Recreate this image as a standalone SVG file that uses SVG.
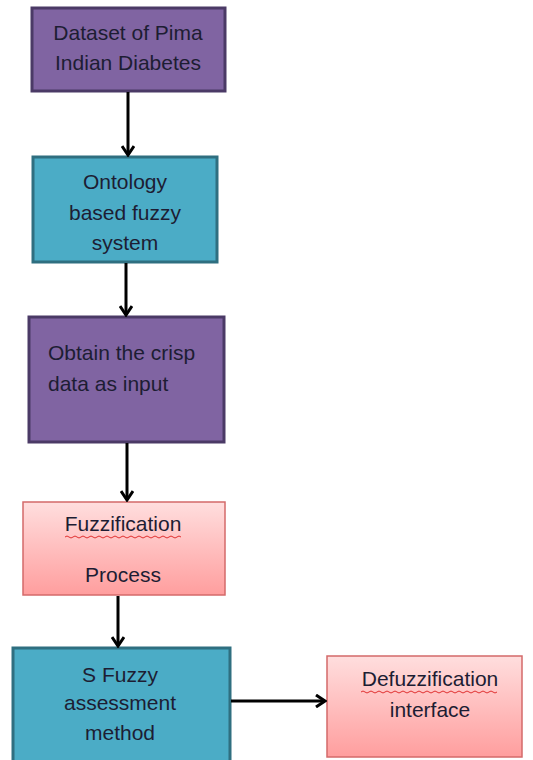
<svg xmlns="http://www.w3.org/2000/svg" width="533" height="760" viewBox="0 0 533 760">
<defs>
<linearGradient id="pink" x1="0" y1="0" x2="0" y2="1">
<stop offset="0" stop-color="#ffdede"/>
<stop offset="1" stop-color="#ff9e9e"/>
</linearGradient>
<marker id="arr" markerWidth="12" markerHeight="14" refX="10" refY="7" orient="auto" markerUnits="userSpaceOnUse">
<path d="M1,1 L10,7 L1,13" fill="none" stroke="#000" stroke-width="3"/>
</marker>
</defs>
<style>
.purple{fill:#8064a2;stroke:#4b3a66;stroke-width:3}
.teal{fill:#4bacc6;stroke:#2f6f80;stroke-width:3}
.pink{fill:url(#pink);stroke:#d46a6a;stroke-width:1.5}
text{font-family:"Liberation Sans",Arial,sans-serif;font-size:21px;fill:#1d1d33}
.c{text-anchor:middle}
.conn line{stroke:#000;stroke-width:3;marker-end:url(#arr)}
.squig{fill:none;stroke:#e03030;stroke-width:1}
</style>
<g id="n1">
<rect class="purple" x="32" y="8" width="193" height="83"/>
<text class="c" x="128" y="40">Dataset of Pima</text>
<text class="c" x="128" y="70">Indian Diabetes</text>
</g>
<g id="n2">
<rect class="teal" x="33" y="157" width="184" height="105"/>
<text class="c" x="125" y="189">Ontology</text>
<text class="c" x="125" y="220">based fuzzy</text>
<text class="c" x="125" y="250">system</text>
</g>
<g id="n3">
<rect class="purple" x="29" y="317" width="195" height="125"/>
<text x="48" y="360">Obtain the crisp</text>
<text x="48" y="391">data as input</text>
</g>
<g id="n4">
<rect class="pink" x="23" y="502" width="202" height="93"/>
<text class="c" x="123" y="531">Fuzzification</text>
<path class="squig" d="M65,537 q2,-2 4,0 t4,0 t4,0 t4,0 t4,0 t4,0 t4,0 t4,0 t4,0 t4,0 t4,0 t4,0 t4,0 t4,0 t4,0 t4,0 t4,0 t4,0 t4,0 t4,0 t4,0 t4,0 t4,0 t4,0 t4,0 t4,0 t4,0 t4,0 t4,0"/>
<text class="c" x="123" y="582">Process</text>
</g>
<g id="n5">
<rect class="teal" x="13" y="648" width="217" height="120"/>
<text class="c" x="120" y="682">S Fuzzy</text>
<text class="c" x="120" y="710">assessment</text>
<text class="c" x="120" y="740">method</text>
</g>
<g id="n6">
<rect class="pink" x="327" y="656" width="195" height="101"/>
<text class="c" x="430" y="686">Defuzzification</text>
<path class="squig" d="M361,692 q2,-2 4,0 t4,0 t4,0 t4,0 t4,0 t4,0 t4,0 t4,0 t4,0 t4,0 t4,0 t4,0 t4,0 t4,0 t4,0 t4,0 t4,0 t4,0 t4,0 t4,0 t4,0 t4,0 t4,0 t4,0 t4,0 t4,0 t4,0 t4,0 t4,0 t4,0 t4,0 t4,0 t4,0 t4,0"/>
<text class="c" x="430" y="717">interface</text>
</g>
<g id="connectors" class="conn">
<line x1="128" y1="92" x2="128" y2="155"/>
<line x1="126" y1="263" x2="126" y2="315"/>
<line x1="127" y1="443" x2="127" y2="500"/>
<line x1="118" y1="596" x2="118" y2="646"/>
<line x1="231" y1="701" x2="325" y2="701"/>
</g>
</svg>
